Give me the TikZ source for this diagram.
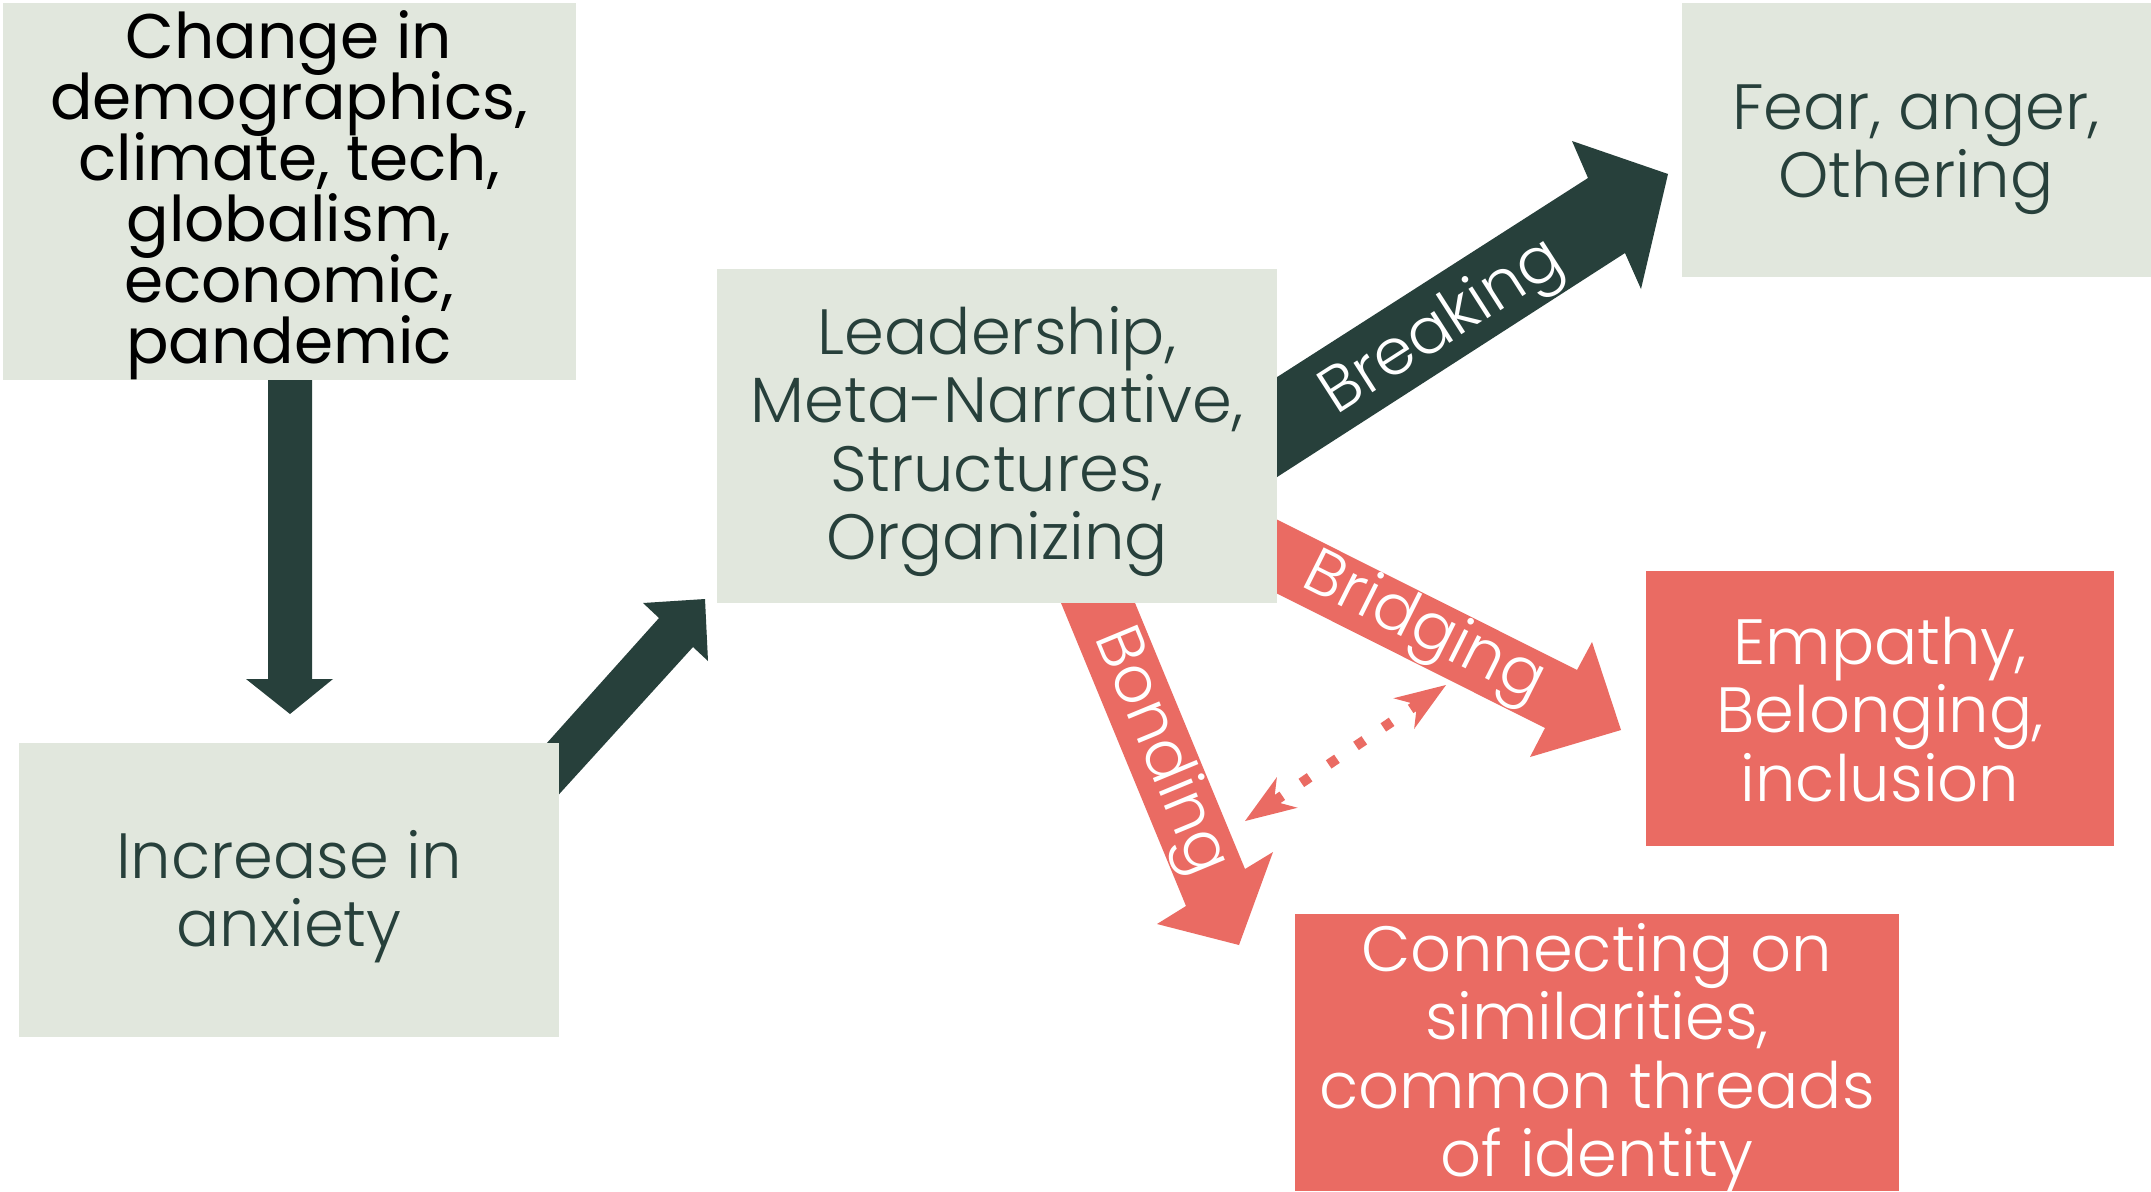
\documentclass[tikz,border=0pt]{standalone}
\usepackage{fontspec}
\setmainfont{Poppins}[UprightFont=* Light]
\newfontfamily\regfont{Poppins}
\usetikzlibrary{arrows.meta}
\definecolor{boxbg}{HTML}{E1E7DD}
\definecolor{dkgreen}{HTML}{27403B}
\definecolor{coral}{HTML}{EA6B63}
\newcommand\mylines[1]{\vtop{\lineskiplimit=-\maxdimen\let\\\cr\halign{\hfil##\hfil\cr#1\crcr}}}
\begin{document}
\begin{tikzpicture}[x=1pt,y=-1pt,
  lbox/.style={fill=boxbg, draw=none, inner sep=0pt, rectangle},
  rbox/.style={fill=coral, draw=none, inner sep=0pt, rectangle},
  txt/.style={anchor=base, inner sep=0pt, font=\fontsize{64}{68.6}\selectfont, text=dkgreen},
  wtxt/.style={txt, text=white},
  lbl/.style={inner sep=0pt, font=\fontsize{64}{64}\selectfont, text=white},
  darrow/.style={fill=dkgreen, draw=none},
  rarrow/.style={fill=coral, draw=none},
  mytip/.tip={Stealth[length=51pt,width=37pt,inset=16pt,line width=0pt]}
]
\useasboundingbox (0,0) rectangle (2151,1191);
\clip (0,0) rectangle (2151,1191);
\fill[white] (0,0) rectangle (2151,1191);

% block arrows (drawn first, boxes cover their tails)
\fill[darrow] (268,370) -- (268,679) -- (246,679) -- (290,714) -- (333,679) -- (312,679) -- (312,370) -- cycle;
\fill[darrow] (520,773) -- (659,618) -- (643,603) -- (705,599) -- (708,661) -- (693,647) -- (532,824) -- cycle;
\fill[darrow] (1260,388) -- (1588,178) -- (1572,141) -- (1668,174) -- (1641,289) -- (1625,253) -- (1260,488) -- cycle;
\fill[rarrow] (1260,511) -- (1577,670) -- (1592,642) -- (1621,730) -- (1530,757) -- (1545,728) -- (1260,585) -- cycle;
\fill[rarrow] (1054,586) -- (1186,906) -- (1157,924) -- (1239,945) -- (1273,852) -- (1245,869) -- (1128,586) -- cycle;

% boxes
\node[lbox, minimum width=573pt, minimum height=377pt] (b1) at (289.5,191.5) {};
\node[lbox, minimum width=540pt, minimum height=294pt] (b2) at (289,890) {};
\node[lbox, minimum width=560pt, minimum height=334pt] (b3) at (997,436) {};
\node[lbox, minimum width=469pt, minimum height=274pt] (b4) at (1916.5,140) {};
\node[rbox, minimum width=468pt, minimum height=275pt] (b5) at (1880,708.5) {};
\node[rbox, minimum width=604pt, minimum height=277pt] (b6) at (1597,1052.5) {};

% box texts
\node[txt, text=black, font=\regfont\fontsize{63}{61}\selectfont] (t1) at (289,58)
  {\mylines{Change in\\demographics,\\climate, tech,\\globalism,\\economic,\\pandemic}};
\node[txt] (t2) at (289,878) {\mylines{Increase in\\anxiety}};
\node[txt] (t3) at (997,354) {\mylines{Leadership,\\Meta-Narrative,\\Structures,\\Organizing}};
\node[txt] (t4) at (1916,129) {\mylines{Fear, anger,\\Othering}};
\node[wtxt] (t5) at (1880,664) {\mylines{Empathy,\\Belonging,\\inclusion}};
\node[wtxt] (t6) at (1597,971) {\mylines{Connecting on\\similarities,\\common threads\\of identity}};

% arrow labels
\node[lbl, rotate=32.7] (lbreak) at (1443,329) {Breaking};
\node[lbl, rotate=-26.6] (lbridge) at (1423,630) {Bridging};
\node[lbl, rotate=-67.5] (lbond) at (1159,752) {Bonding};

% dotted double arrow
\coordinate (dl) at (1245,821);
\coordinate (dr) at (1446,685);
\draw[coral, line width=10pt, dash pattern=on 10pt off 23pt, {mytip}-{mytip}] (dl) -- (dr);
\end{tikzpicture}
\end{document}
